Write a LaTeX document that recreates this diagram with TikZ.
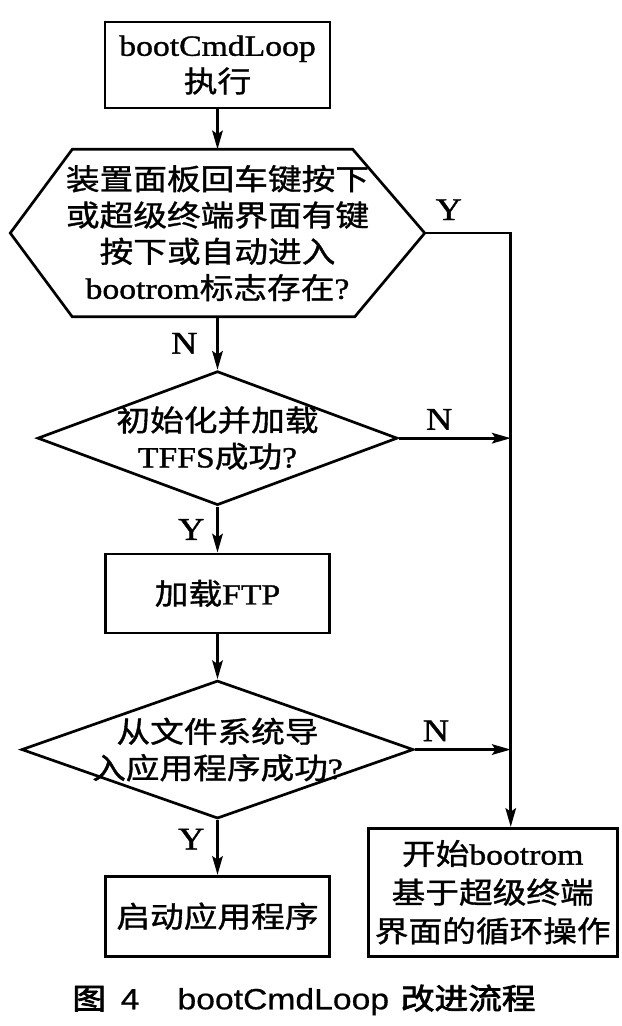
\documentclass[tikz,border=0pt]{standalone}
\usepackage{fontspec}
\setmainfont{Liberation Serif}[FakeStretch=1.15,FakeBold=1.2]
\setsansfont{Liberation Sans}[FakeStretch=1.15,FakeBold=0.6]
\newfontfamily\cjk{Noto Sans CJK SC}[FakeStretch=1.15,FakeBold=1.2]
\newfontfamily\cjkhei{Noto Sans CJK SC}[FakeStretch=1.15,FakeBold=2.5]
\usetikzlibrary{positioning,shapes.geometric,arrows.meta}
\tikzset{proc/.style={rectangle,draw,line width=2.3pt,inner sep=0pt,align=center,
                      font=\fontsize{25}{31}\selectfont},
	 dec/.style={diamond,draw,line width=2.3pt,inner sep=0pt},
	 hexbox/.style={rectangle,inner sep=0pt},
	 hexline/.style={line width=2.3pt,line join=miter},
	 txt/.style={align=center,inner sep=0pt,font=\fontsize{25}{31}\selectfont},
	 yn/.style={inner sep=2pt,font=\fontsize{27}{30}\selectfont},
	 flow/.style={line width=2.3pt,-{Stealth[length=16pt,width=9pt,inset=3pt]}},
	 node distance = 1.2cm
	 }

\begin{document}
\begin{tikzpicture}% bootCmdLoop improved flow
        \useasboundingbox (0,0) rectangle (18.66,-30.78);
        \node[proc, minimum width=6.75cm, minimum height=2.58cm] (start) at (6.525,-1.95)
             {bootCmdLoop\\{\cjk 执行}};
        \node[hexbox, minimum width=12.42cm, minimum height=5.01cm] (enter) [below=1.2cm of start]
             [label={[txt,name=enter-l]center:{\cjk 装置面板回车键按下}\\{\cjk 或超级终端界面有键}\\{\cjk 按下或自动进入}\\bootrom{\cjk 标志存在}?}] {};
        \draw[hexline] ([xshift=1.86cm]enter.north west) -- ([xshift=-2.16cm]enter.north east)
              -- (enter.east) -- ([xshift=-2.10cm]enter.south east)
              -- ([xshift=1.86cm]enter.south west) -- (enter.west) -- cycle;
        \node[dec, minimum width=10.8cm, minimum height=4.02cm] (tffs) [below=1.59cm of enter]
             [label={[txt,name=tffs-l]center:{\cjk 初始化并加载}\\TFFS{\cjk 成功}?}] {};
        \node[proc, minimum width=6.72cm, minimum height=2.37cm] (ftp) [below=1.38cm of tffs]
             {{\cjk 加载}FTP};
        \node[dec, minimum width=11.76cm, minimum height=4.14cm] (import) [below=1.35cm of ftp]
             [label={[txt,name=import-l]center:{\cjk 从文件系统导}\\{\cjk 入应用程序成功}?}] {};
        \node[proc, minimum width=6.72cm, minimum height=2.4cm] (app) [below=1.65cm of import]
             {{\cjk 启动应用程序}};
        \node[proc, minimum width=7.47cm, minimum height=3.84cm, anchor=south west,
              font=\fontsize{25}{33}\selectfont] (loop) at ([xshift=1.08cm]app.south east)
             {{\cjk 开始}bootrom\\{\cjk 基于超级终端}\\{\cjk 界面的循环操作}};
        \coordinate (turn) at ([xshift=2.58cm]enter.east);
        \draw[flow] (start) to (enter.north);
        \draw[flow] (enter.south) to node[yn, left=14pt] (n1) {N} (tffs);
        \draw[flow] (tffs) to node[yn, left=8pt] (y1) {Y} (ftp);
        \draw[flow] (ftp) to (import);
        \draw[flow] (import) to node[yn, left=8pt, pos=0.35] (y2) {Y} (app);
        \draw[flow] (enter.east) to node[yn, above=8pt, pos=0.28] (y0) {Y} (turn)
              -- (turn |- loop.north);
        \draw[flow] (tffs.east) to node[yn, above=4pt, pos=0.36] (n2) {N} (tffs.east -| turn);
        \draw[flow] (import.east) to node[yn, above=4pt, pos=0.22] (n3) {N} (import.east -| turn);
        \node[font=\fontsize{25}{30}\selectfont\sffamily] (caption) at (9.12,-30)
             {{\cjkhei 图}\hspace{0.5em}4\hspace{1.3em}bootCmdLoop\hspace{0.4em}{\cjkhei 改进流程}};
     \end{tikzpicture}
\end{document}
